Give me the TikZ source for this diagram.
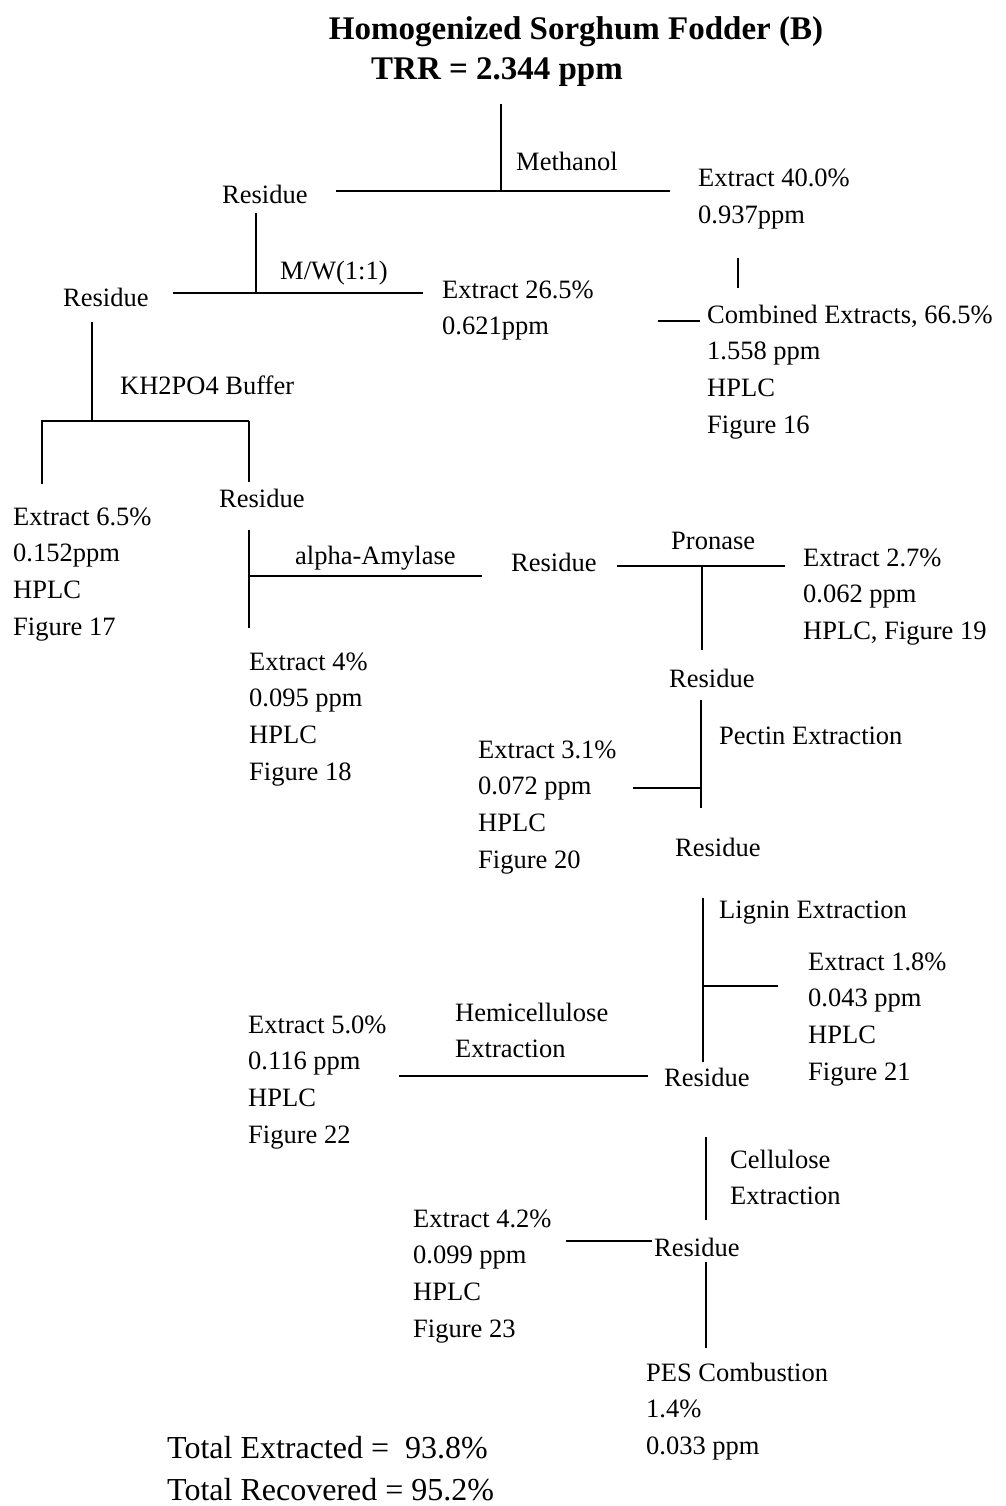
\documentclass[tikz,border=0pt]{standalone}
\usepackage{fontspec}
\setmainfont{Liberation Serif}
\begin{document}
\begin{tikzpicture}[x=1pt,y=-1pt,
  lbl/.style={anchor=base west, inner sep=0pt, align=left, font=\fontsize{26.5}{36.8}\selectfont},
  % a multi-line label sits on its last baseline: shift it down by the extra lines
  more/.style={yshift=-#1*36.8pt},
  ttl/.style={anchor=base, inner sep=0pt, font=\bfseries\fontsize{33}{40}\selectfont},
  tot/.style={anchor=base west, inner sep=0pt, font=\fontsize{32}{45}\selectfont},
  thinln/.style={line width=1.4pt},
  thickln/.style={line width=2.6pt}]
\useasboundingbox (0,0) rectangle (1005,1506);

% headings
\node[ttl] (title) at (576,40) {Homogenized Sorghum Fodder (B)};
\node[ttl] (trr) at (497,80) {TRR = 2.344 ppm};

% labels and fractions (positions give the first baseline)
\node[lbl] (res1) at (222,204) {Residue};
\node[lbl] (meth) at (516,171) {Methanol};
\node[lbl,more=1] (ex40) at (698,187) {Extract 40.0\%\\0.937ppm};
\node[lbl] (res2) at (63,306) {Residue};
\node[lbl] (mw) at (280,279) {M/W(1:1)};
\node[lbl,more=1] (ex265) at (442,298) {Extract 26.5\%\\0.621ppm};
\node[lbl,more=3] (comb) at (707,323) {Combined Extracts, 66.5\%\\1.558 ppm\\HPLC\\Figure 16};
\node[lbl] (kh) at (120,394) {KH2PO4 Buffer};
\node[lbl,more=3] (ex65) at (13,525) {Extract 6.5\%\\0.152ppm\\HPLC\\Figure 17};
\node[lbl] (res3) at (219,507) {Residue};
\node[lbl] (amyl) at (295,564) {alpha-Amylase};
\node[lbl] (res4) at (511,571) {Residue};
\node[lbl] (pron) at (671,549) {Pronase};
\node[lbl,more=2] (ex27) at (803,566) {Extract 2.7\%\\0.062 ppm\\HPLC, Figure 19};
\node[lbl,more=3] (ex4) at (249,670) {Extract 4\%\\0.095 ppm\\HPLC\\Figure 18};
\node[lbl] (res5) at (669,687) {Residue};
\node[lbl] (pect) at (719,744) {Pectin Extraction};
\node[lbl,more=3] (ex31) at (478,758) {Extract 3.1\%\\0.072 ppm\\HPLC\\Figure 20};
\node[lbl] (res6) at (675,856) {Residue};
\node[lbl] (lign) at (719,918) {Lignin Extraction};
\node[lbl,more=3] (ex18) at (808,970) {Extract 1.8\%\\0.043 ppm\\HPLC\\Figure 21};
\node[lbl,more=1] (hemi) at (455,1021) {Hemicellulose\\Extraction};
\node[lbl,more=3] (ex50) at (248,1033) {Extract 5.0\%\\0.116 ppm\\HPLC\\Figure 22};
\node[lbl] (res7) at (664,1086) {Residue};
\node[lbl,more=1] (cell) at (730,1168) {Cellulose\\Extraction};
\node[lbl,more=3] (ex42) at (413,1227) {Extract 4.2\%\\0.099 ppm\\HPLC\\Figure 23};
\node[lbl] (res8) at (654,1256) {Residue};
\node[lbl,more=2] (pes) at (646,1381) {PES Combustion\\1.4\%\\0.033 ppm};
\node[tot] (totex) at (167,1458) {Total Extracted =~~93.8\%};
\node[tot] (totrec) at (167,1500) {Total Recovered = 95.2\%};

% junction and end points of the connecting lines
\coordinate (a1) at (501,104);  \coordinate (a2) at (501,191);
\coordinate (b1) at (336,191);  \coordinate (b2) at (670,191);
\coordinate (c1) at (256,213);  \coordinate (c2) at (256,293);
\coordinate (d1) at (173,293);  \coordinate (d2) at (423,293);
\coordinate (e1) at (738,258);  \coordinate (e2) at (738,288);
\coordinate (f1) at (658,321);  \coordinate (f2) at (700,321);
\coordinate (g1) at (92,322);   \coordinate (g2) at (92,421);
\coordinate (h1) at (42,421);   \coordinate (h2) at (249,421);
\coordinate (h3) at (42,484);   \coordinate (h4) at (249,482);
\coordinate (i1) at (249,530);  \coordinate (i2) at (249,628);
\coordinate (j1) at (249,576);  \coordinate (j2) at (482,576);
\coordinate (k1) at (617,566);  \coordinate (k2) at (785,566);
\coordinate (k3) at (702,566);  \coordinate (k4) at (702,650);
\coordinate (l1) at (701,700);  \coordinate (l2) at (701,808);
\coordinate (m1) at (633,788);  \coordinate (m2) at (701,788);
\coordinate (n1) at (703,898);  \coordinate (n2) at (703,1062);
\coordinate (o1) at (703,986);  \coordinate (o2) at (778,986);
\coordinate (p1) at (399,1076); \coordinate (p2) at (648,1076);
\coordinate (q1) at (706,1137); \coordinate (q2) at (706,1220);
\coordinate (r1) at (566,1241); \coordinate (r2) at (652,1241);
\coordinate (s1) at (706,1262); \coordinate (s2) at (706,1348);

% connecting lines
\draw[thinln] (a1) -- (a2);
\draw[thickln] (b1) -- (b2);
\draw[thinln] (c1) -- (c2);
\draw[thickln] (d1) -- (d2);
\draw[thickln] (e1) -- (e2);
\draw[thickln] (f1) -- (f2);
\draw[thinln] (g1) -- (g2);
\draw[thickln] (h3) -- (h1) -- (h2);
\draw[thinln] (h2) -- (h4);
\draw[thinln] (i1) -- (i2);
\draw[thickln] (j1) -- (j2);
\draw[thickln] (k1) -- (k2);
\draw[thinln] (k3) -- (k4);
\draw[thinln] (l1) -- (l2);
\draw[thickln] (m1) -- (m2);
\draw[thinln] (n1) -- (n2);
\draw[thickln] (o1) -- (o2);
\draw[thickln] (p1) -- (p2);
\draw[thinln] (q1) -- (q2);
\draw[thickln] (r1) -- (r2);
\draw[thinln] (s1) -- (s2);
\end{tikzpicture}
\end{document}
